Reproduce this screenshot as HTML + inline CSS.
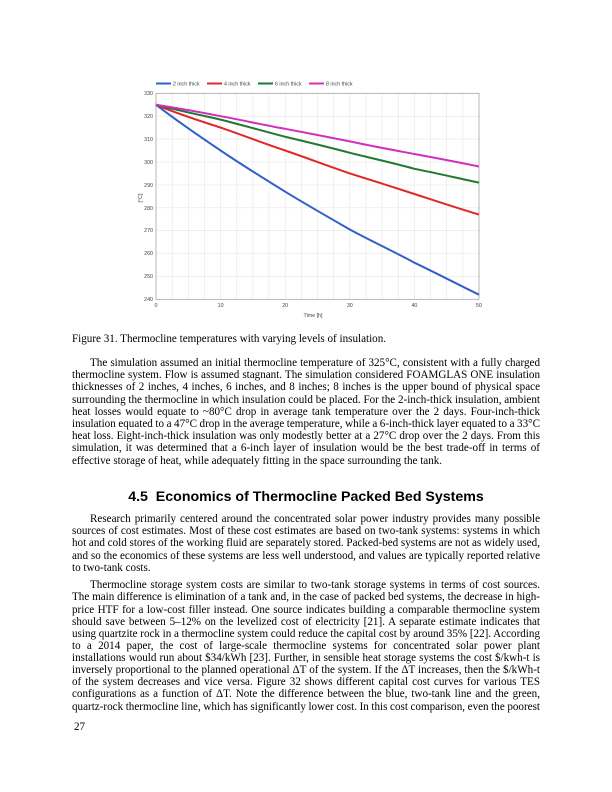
<!DOCTYPE html>
<html><head><meta charset="utf-8"><style>
body{margin:0;background:#fff}
#p{position:relative;width:612px;height:792px;overflow:hidden;font-family:"Liberation Serif",serif;font-size:11.1px;color:#000}
.l{position:absolute;left:72px;width:468px;height:13px;line-height:13px;white-space:nowrap;text-align:justify;text-align-last:justify;word-spacing:-0.6px}
.l.e{text-align-last:left;word-spacing:0}
.l.i{left:90px;width:450px}
h2{position:absolute;margin:0;left:0;width:612px;text-align:center;top:489px;font-family:"Liberation Sans",sans-serif;font-size:14.2px;font-weight:bold}
svg text{font-family:"Liberation Sans",sans-serif;font-size:5.3px;fill:#444}
</style></head><body><div id="p">
<svg width="612" height="330" style="position:absolute;left:0;top:0">
<g stroke="#e6e6e6" stroke-width="0.6">
<line x1="172.2" y1="93.3" x2="172.2" y2="299.3"/><line x1="220.6" y1="93.3" x2="220.6" y2="299.3"/><line x1="188.3" y1="93.3" x2="188.3" y2="299.3"/><line x1="204.5" y1="93.3" x2="204.5" y2="299.3"/>
<line x1="236.8" y1="93.3" x2="236.8" y2="299.3"/><line x1="253" y1="93.3" x2="253" y2="299.3"/><line x1="269" y1="93.3" x2="269" y2="299.3"/><line x1="285.2" y1="93.3" x2="285.2" y2="299.3"/>
<line x1="301.4" y1="93.3" x2="301.4" y2="299.3"/><line x1="317.5" y1="93.3" x2="317.5" y2="299.3"/><line x1="333.7" y1="93.3" x2="333.7" y2="299.3"/><line x1="349.8" y1="93.3" x2="349.8" y2="299.3"/>
<line x1="366" y1="93.3" x2="366" y2="299.3"/><line x1="382" y1="93.3" x2="382" y2="299.3"/><line x1="398.2" y1="93.3" x2="398.2" y2="299.3"/><line x1="414.4" y1="93.3" x2="414.4" y2="299.3"/>
<line x1="430.6" y1="93.3" x2="430.6" y2="299.3"/><line x1="446.7" y1="93.3" x2="446.7" y2="299.3"/><line x1="462.9" y1="93.3" x2="462.9" y2="299.3"/>
<line x1="156" y1="116.2" x2="479" y2="116.2"/><line x1="156" y1="139.1" x2="479" y2="139.1"/><line x1="156" y1="162" x2="479" y2="162"/><line x1="156" y1="184.9" x2="479" y2="184.9"/>
<line x1="156" y1="207.8" x2="479" y2="207.8"/><line x1="156" y1="230.6" x2="479" y2="230.6"/><line x1="156" y1="253.5" x2="479" y2="253.5"/><line x1="156" y1="276.4" x2="479" y2="276.4"/>
</g>
<rect x="156" y="93.3" width="323" height="206" fill="none" stroke="#999" stroke-width="0.7"/>
<g text-anchor="end">
<text x="153" y="95">330</text><text x="153" y="118">320</text><text x="153" y="141">310</text><text x="153" y="164">300</text><text x="153" y="187">290</text>
<text x="153" y="210">280</text><text x="153" y="232">270</text><text x="153" y="255">260</text><text x="153" y="278">250</text><text x="153" y="301">240</text>
</g>
<g text-anchor="middle">
<text x="156" y="307">0</text><text x="220.6" y="307">10</text><text x="285.2" y="307">20</text><text x="349.8" y="307">30</text><text x="414.4" y="307">40</text><text x="479" y="307">50</text>
<text x="313" y="317">Time [h]</text>
<text transform="translate(142,198) rotate(-90)">[°C]</text>
</g>
<g fill="none" stroke-width="2">
<path stroke="#3060c8" d="M156,104.7 C177,121 199,136 220.6,150.5 C242,165 263,178 285.2,191.7 C307,205 328,217 349.8,229.5 C371,241 393,251 414.4,262.7 C436,273 457,284 479,294.7"/>
<path stroke="#e02828" d="M156,104.7 C175,113 200,121 220.6,127.6 C242,135 263,143 285.2,150.5 C307,158 328,166 349.8,173.4 C371,180 393,187 414.4,194 C436,201 457,208 479,214.6"/>
<path stroke="#1f7a30" d="M156,104.7 C176,110 200,115 220.6,119.6 C242,125 263,131 285.2,136.8 C307,142 328,147 349.8,152.8 C371,158 393,163 414.4,168.8 C436,173 457,178 479,182.6"/>
<path stroke="#d030c0" d="M156,104.7 C177,108 200,112 220.6,116.2 C242,120 263,125 285.2,128.8 C307,133 328,137 349.8,141.4 C371,146 393,150 414.4,154 C436,158 457,162 479,166.5"/>
</g>
<g stroke-width="2">
<line x1="156" y1="83.5" x2="171" y2="83.5" stroke="#3060c8"/><line x1="207" y1="83.5" x2="222" y2="83.5" stroke="#e02828"/>
<line x1="258" y1="83.5" x2="273" y2="83.5" stroke="#1f7a30"/><line x1="309" y1="83.5" x2="324" y2="83.5" stroke="#d030c0"/>
</g>
<text x="173" y="85.5">2 inch thick</text><text x="224" y="85.5">4 inch thick</text><text x="275" y="85.5">6 inch thick</text><text x="326" y="85.5">8 inch thick</text>
</svg>
<div class="l e" style="top:333px">Figure 31. Thermocline temperatures with varying levels of insulation.</div>
<div class="l i" style="top:357px">The simulation assumed an initial thermocline temperature of 325°C, consistent with a fully charged</div>
<div class="l" style="top:369px">thermocline system. Flow is assumed stagnant. The simulation considered FOAMGLAS ONE insulation</div>
<div class="l" style="top:381px">thicknesses of 2 inches, 4 inches, 6 inches, and 8 inches; 8 inches is the upper bound of physical space</div>
<div class="l" style="top:393.5px">surrounding the thermocline in which insulation could be placed. For the 2-inch-thick insulation, ambient</div>
<div class="l" style="top:405.5px">heat losses would equate to ~80°C drop in average tank temperature over the 2 days. Four-inch-thick</div>
<div class="l" style="top:418px">insulation equated to a 47°C drop in the average temperature, while a 6-inch-thick layer equated to a 33°C</div>
<div class="l" style="top:430px">heat loss. Eight-inch-thick insulation was only modestly better at a 27°C drop over the 2 days. From this</div>
<div class="l" style="top:442px">simulation, it was determined that a 6-inch layer of insulation would be the best trade-off in terms of</div>
<div class="l e" style="top:454.5px">effective storage of heat, while adequately fitting in the space surrounding the tank.</div>
<h2>4.5&nbsp;&nbsp;Economics of Thermocline Packed Bed Systems</h2>
<div class="l i" style="top:513px">Research primarily centered around the concentrated solar power industry provides many possible</div>
<div class="l" style="top:525px">sources of cost estimates. Most of these cost estimates are based on two-tank systems: systems in which</div>
<div class="l" style="top:537px">hot and cold stores of the working fluid are separately stored. Packed-bed systems are not as widely used,</div>
<div class="l" style="top:549.5px">and so the economics of these systems are less well understood, and values are typically reported relative</div>
<div class="l e" style="top:561.5px">to two-tank costs.</div>
<div class="l i" style="top:579px">Thermocline storage system costs are similar to two-tank storage systems in terms of cost sources.</div>
<div class="l" style="top:591px">The main difference is elimination of a tank and, in the case of packed bed systems, the decrease in high-</div>
<div class="l" style="top:603.5px">price HTF for a low-cost filler instead. One source indicates building a comparable thermocline system</div>
<div class="l" style="top:615.5px">should save between 5–12% on the levelized cost of electricity [21]. A separate estimate indicates that</div>
<div class="l" style="top:628px">using quartzite rock in a thermocline system could reduce the capital cost by around 35% [22]. According</div>
<div class="l" style="top:640px">to a 2014 paper, the cost of large-scale thermocline systems for concentrated solar power plant</div>
<div class="l" style="top:652px">installations would run about $34/kWh [23]. Further, in sensible heat storage systems the cost $/kwh-t is</div>
<div class="l" style="top:664px">inversely proportional to the planned operational ΔT of the system. If the ΔT increases, then the $/kWh-t</div>
<div class="l" style="top:676px">of the system decreases and vice versa. Figure 32 shows different capital cost curves for various TES</div>
<div class="l" style="top:688px">configurations as a function of ΔT. Note the difference between the blue, two-tank line and the green,</div>
<div class="l" style="top:700.5px">quartz-rock thermocline line, which has significantly lower cost. In this cost comparison, even the poorest</div>
<div class="l e" style="top:721px;left:74px">27</div>
</div></body></html>
